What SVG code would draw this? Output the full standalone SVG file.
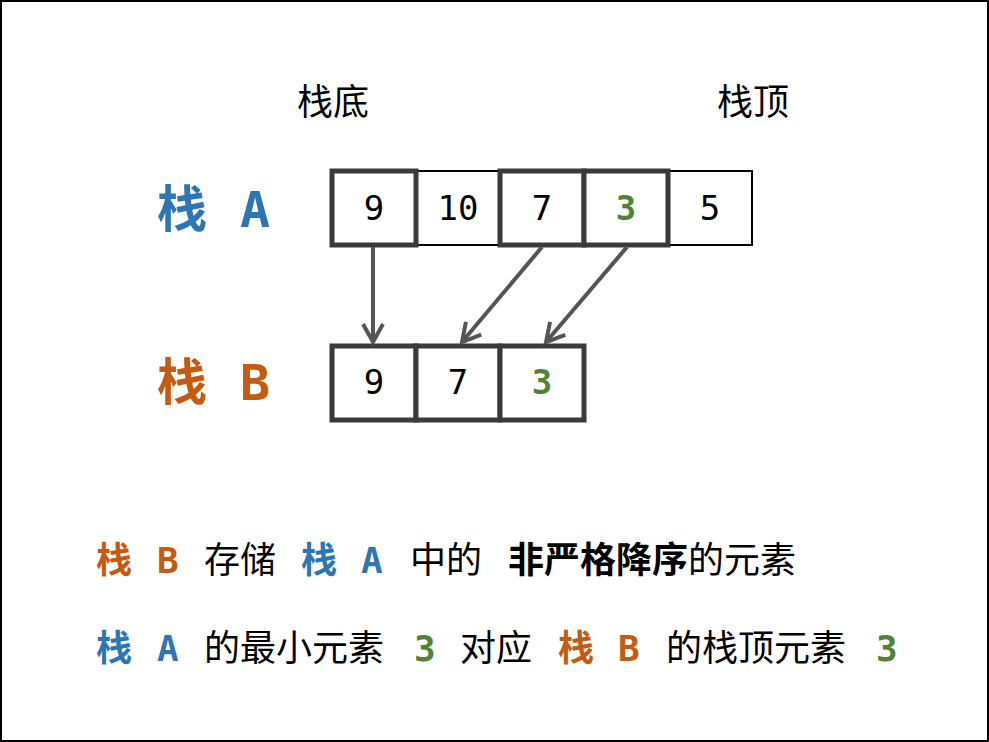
<svg xmlns="http://www.w3.org/2000/svg" width="989" height="742" viewBox="0 0 989 742">
<style>
text{font-family:"DejaVu Sans Mono","Noto Sans CJK SC",monospace}
.n{font-size:34px;text-anchor:middle;dominant-baseline:central}
.thick{fill:#fff;stroke:#3a3a3a;stroke-width:5}
.thin{fill:#fff;stroke:#000;stroke-width:2}
.bl{fill:#2e75b6;font-weight:bold}.or{fill:#c55a11;font-weight:bold}.gr{fill:#548235;font-weight:bold}
.t{font-size:36px}
</style>
<defs><marker id="ah" viewBox="0 0 24 24" refX="20" refY="12" markerWidth="24" markerHeight="24" markerUnits="userSpaceOnUse" orient="auto"><path d="M2,2 L20,12 L2,22" fill="none" stroke="#555" stroke-width="4"/></marker></defs>
<rect x="1" y="1" width="987" height="740" fill="#fff" stroke="#000" stroke-width="2"/>
<text x="333" y="115" font-size="36" text-anchor="middle">栈底</text>
<text x="753" y="115" font-size="36" text-anchor="middle">栈顶</text>
<text y="227" font-size="50" class="bl"><tspan x="157">栈</tspan><tspan x="240">A</tspan></text>
<text y="400" font-size="50" class="or"><tspan x="157">栈</tspan><tspan x="240">B</tspan></text>
<g id="stackA">
<rect class="thin" x="416" y="171" width="84" height="74"/><rect class="thin" x="668" y="171" width="84" height="74"/>
<rect class="thick" x="332" y="171" width="84" height="74"/><rect class="thick" x="500" y="171" width="84" height="74"/><rect class="thick" x="584" y="171" width="84" height="74"/>
<text class="n" x="374" y="208">9</text><text class="n" x="458" y="208">10</text><text class="n" x="542" y="208">7</text><text class="n gr" x="626" y="208">3</text><text class="n" x="710" y="208">5</text>
</g>
<g id="stackB">
<rect class="thick" x="332" y="346" width="84" height="74"/><rect class="thick" x="416" y="346" width="84" height="74"/><rect class="thick" x="500" y="346" width="84" height="74"/>
<text class="n" x="374" y="382">9</text><text class="n" x="458" y="382">7</text><text class="n gr" x="542" y="382">3</text>
</g>
<g id="connectors" stroke="#555" stroke-width="4" fill="none" marker-end="url(#ah)">
<line x1="373" y1="247" x2="373" y2="342"/>
<line x1="542" y1="247" x2="462" y2="342"/>
<line x1="627" y1="247" x2="546" y2="342"/>
</g>
<text class="t" y="573"><tspan class="or" x="96">栈</tspan><tspan class="or" x="157">B</tspan><tspan x="204">存储</tspan><tspan class="bl" x="301">栈</tspan><tspan class="bl" x="361">A</tspan><tspan x="410">中的</tspan><tspan x="508" font-weight="bold">非严格降序</tspan><tspan>的元素</tspan></text>
<text class="t" y="661"><tspan class="bl" x="96">栈</tspan><tspan class="bl" x="157">A</tspan><tspan x="204">的最小元素</tspan><tspan class="gr" x="414">3</tspan><tspan x="460">对应</tspan><tspan class="or" x="558">栈</tspan><tspan class="or" x="618">B</tspan><tspan x="666">的栈顶元素</tspan><tspan class="gr" x="876">3</tspan></text>
</svg>
